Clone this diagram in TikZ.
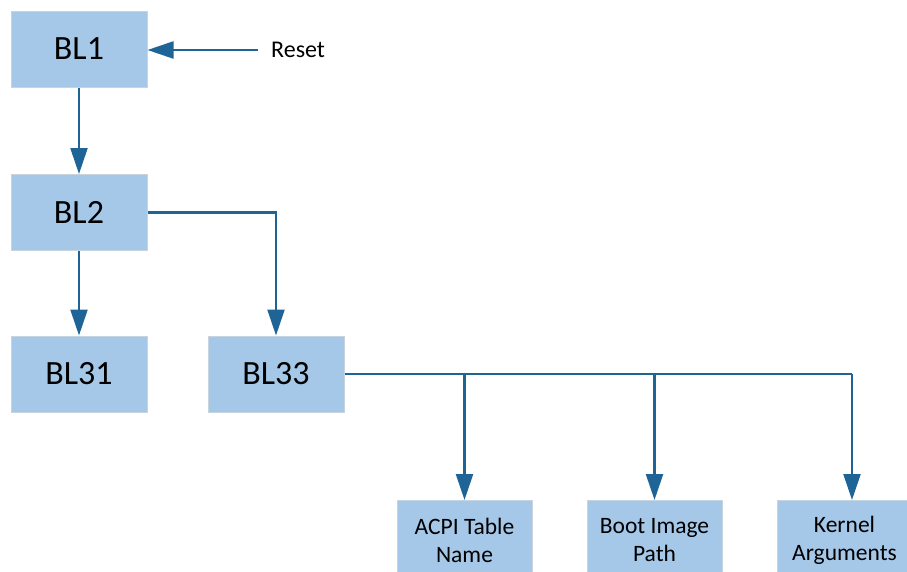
\documentclass[tikz,border=0pt]{standalone}
\usepackage{fontspec}
\setmainfont{Carlito}
\usetikzlibrary{arrows.meta}
\definecolor{boxfill}{HTML}{A5C8E8}
\definecolor{boxline}{HTML}{C8D4DE}
\definecolor{arrowc}{HTML}{1F6496}
\begin{document}
\begin{tikzpicture}[x=1pt,y=-1pt,
  blk/.style={draw=boxline,fill=boxfill,line width=1pt,minimum width=136pt,minimum height=76pt,inner sep=0pt,font=\fontsize{34}{38}\selectfont,text=black},
  sblk/.style={draw=boxline,fill=boxfill,line width=1pt,minimum width=135pt,minimum height=80pt,inner sep=0pt,align=center,font=\fontsize{23.5}{28}\selectfont,text=black},
  conn/.style={draw=arrowc,line width=2.2pt,-{Triangle[length=26pt,width=17pt]}},
  line/.style={draw=arrowc,line width=2.2pt}]
\useasboundingbox (0,0) rectangle (907,571);
\node[blk] (bl1) at (79,49) {BL1};
\node[blk] (bl2) at (79,212.5) {BL2};
\node[blk] (bl31) at (79,374) {BL31};
\node[blk] (bl33) at (276,374) {BL33};
\node[sblk,anchor=north] (acpi) at (464.5,500) {ACPI Table\\Name};
\node[sblk,anchor=north] (boot) at (654.5,500) {Boot Image\\Path};
\node[sblk,anchor=north] (kern) at (844.5,500) {Kernel\\Arguments};
\node[anchor=west,font=\fontsize{24}{28}\selectfont,inner sep=0pt] (reset) at (271,50) {Reset};
\coordinate (rs) at (258,50);
\draw[conn] (rs) -- (bl1.east |- rs);
\draw[conn] (bl1) -- (bl2);
\draw[conn] (bl2) -- (bl31);
\draw[conn] (bl2.east) -| (bl33.north);
\coordinate (j1) at (acpi.north |- bl33.east);
\coordinate (j2) at (boot.north |- bl33.east);
\coordinate (j3) at (852,374);
\draw[line] (bl33.east) -- (j3);
\draw[conn] (j1) -- (acpi.north);
\draw[conn] (j2) -- (boot.north);
\draw[conn] (j3) -- (j3 |- kern.north);
\end{tikzpicture}
\end{document}
